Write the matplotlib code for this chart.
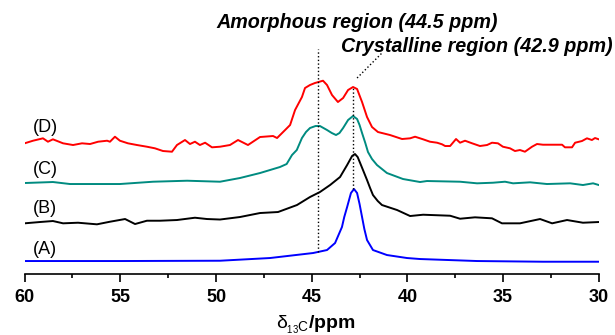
import numpy as np
import matplotlib
matplotlib.use("Agg")
import matplotlib.pyplot as plt
from matplotlib.ticker import MultipleLocator

plt.rcParams["font.family"] = ["Liberation Sans", "DejaVu Sans"]
plt.rcParams["mathtext.fontset"] = "custom"
plt.rcParams["mathtext.rm"] = "Liberation Sans"
plt.rcParams["mathtext.it"] = "Liberation Sans"
plt.rcParams["mathtext.bf"] = "Liberation Sans:bold"

# Spectra: chemical shift (ppm) and intensity (a.u.)
ppm_a = [60.0, 55.0, 49.79, 47.18, 44.93, 44.2, 43.78, 43.6, 43.42, 43.3,
         43.15, 42.95, 42.79, 42.63, 42.5, 42.37, 42.25, 42.11, 41.8, 41.07,
         40.02, 39.34, 36.36, 32.92, 30.0]
int_a = [0, 0, 0.3, 3, 8, 11, 18, 26, 34, 44,
         54, 68, 72, 68, 57, 44, 32, 21, 11, 6,
         3, 2, 0, -0.7, -0.7]

ppm_b = [60.0, 59.2, 58.52, 57.99, 57.21, 56.22, 55.54, 54.75, 54.23, 53.61,
         52.93, 52.04, 51.1, 50.47, 49.79, 48.75, 47.7, 46.76, 45.77, 45.09,
         44.57, 44.04, 43.52, 43.15, 42.89, 42.74, 42.6, 42.47, 42.3, 42.11,
         41.95, 41.8, 41.55, 41.33, 40.54, 39.86, 39.18, 37.77, 37.25, 36.47,
         35.58, 35.06, 34.12, 33.07, 32.44, 31.66, 30.83, 30.0]
int_b = [-2.3, -1, 0, -2.3, -1.7, -3.3, -0.7, 2, -3, 0.3,
         0.3, 1, 3.3, 2, 1.5, 4, 8, 9, 16, 24,
         29, 36, 44, 56, 65, 67, 64, 58, 50, 41,
         33, 26, 20, 16, 11, 5, 6.3, 5.3, 2.3, 3.7,
         2.7, -2.3, -2.3, 2, -2.3, 1, -1.7, -1]

ppm_c = [60.0, 58.52, 57.63, 55.02, 53.29, 51.51, 49.79, 48.75, 47.7, 46.66,
         46.31, 46.03, 45.78, 45.51, 45.3, 45.09, 44.8, 44.57, 44.2, 43.95,
         43.73, 43.55, 43.36, 43.1, 42.84, 42.63, 42.5, 42.37, 42.2, 42.06,
         41.85, 41.59, 41.07, 40.23, 39.34, 38.98, 37.25, 36.36, 35.53, 34.9,
         34.48, 33.59, 32.71, 31.5, 30.83, 30.3, 30.0]
int_c = [0, 1, -1, -1, 1.3, 2.3, 1.3, 5, 10, 16,
         19, 28, 33, 45, 51, 55, 57, 57, 53, 50,
         48, 50, 55, 63, 67, 64, 58, 50, 40, 31,
         24, 18, 10, 4, 1, 2, 1.3, -0.3, 0.3, 1.3,
         -0.3, 0.7, -1, -0.3, -2, -0.3, -2]

ppm_d = [60.0, 59.56, 59.04, 58.78, 58.52, 57.99, 57.47, 57.0, 56.58, 56.16,
         55.69, 55.54, 55.28, 55.02, 54.6, 54.13, 53.61, 53.19, 52.77, 52.3,
         52.04, 51.62, 51.36, 51.1, 50.84, 50.57, 50.21, 49.79, 49.27, 48.85,
         48.33, 47.7, 47.02, 46.81, 46.39, 46.13, 45.87, 45.51, 45.35, 45.09,
         44.83, 44.41, 44.2, 43.94, 43.63, 43.36, 43.1, 42.84, 42.63, 42.37,
         42.11, 41.85, 41.54, 40.91, 40.28, 39.86, 39.6, 39.18, 38.82, 38.45,
         38.19, 38.03, 37.77, 37.46, 37.25, 36.99, 36.62, 36.21, 35.84, 35.58,
         35.27, 35.01, 34.64, 34.38, 34.12, 33.86, 33.49, 33.23, 32.92, 32.39,
         31.92, 31.77, 31.4, 31.24, 30.88, 30.62, 30.36, 30.2, 30.0]
int_d = [0.7, 3.3, 5.7, 2.3, 4.7, 0.7, -1, 0.7, 0, 2.3,
         3.3, 2.3, 7.3, 3.3, 0.7, -1, -2.7, -4.3, -7, -7.7,
         -1, 4, 0, 2.3, -1, 1.3, -3.3, -2.7, -1, 4,
         -1, 7, 8, 6, 14, 19, 34, 47, 56, 59,
         61, 63.3, 59, 49, 42, 46, 54, 57, 55, 42,
         27, 17, 12, 9, 5, 5.7, 7.3, 4.7, 2.3, 1.3,
         -0.3, -2, -2, 5, 1.3, 3.3, 0.7, -2, -1, 1.3,
         0.7, -2.7, -4.3, -7, -6, -7.7, -2.7, 0, -0.7, -0.7,
         -0.7, -3.3, -3.3, 1.3, 3, 5.7, 4, 6, 4.7]

labels = ["(A)", "(B)", "(C)", "(D)"]
spectra = [(ppm_a, int_a), (ppm_b, int_b), (ppm_c, int_c), (ppm_d, int_d)]

# Stacking and styling
offsets = [13, 53, 91, 130]
label_y = [20, 60.7, 99.7, 142.3]
colors = ["#0000FF", "#000000", "#008B80", "#FF0000"]

amorphous_ppm = 44.65
crystalline_ppm = 42.86

fig = plt.figure(figsize=(6.15, 3.35), dpi=100)
ax = fig.add_axes([0.04, 0.182, 0.9337, 0.818])

for (p, inten), off, col in zip(spectra, offsets, colors):
    ax.plot(p, np.array(inten) + off, color=col, lw=1.4)

for lab, ly in zip(labels, label_y):
    ax.text(59.58, ly, lab, fontsize=13, va="baseline", ha="left")

# Guide lines for the two resonances
ax.plot([amorphous_ppm, amorphous_ppm], [22, 225], ls=":", color="black", lw=1)
ax.plot([crystalline_ppm, crystalline_ppm], [85, 187], ls=":", color="black", lw=1)
ax.plot([42.63, 41.33], [196, 221], ls=":", color="black", lw=1)

ax.text(50.0, 245.7, "Amorphous region (44.5 ppm)", fontsize=14.2,
        fontweight="bold", fontstyle="italic", va="baseline", ha="left")
ax.text(43.47, 222.3, "Crystalline region (42.9 ppm)", fontsize=14.2,
        fontweight="bold", fontstyle="italic", va="baseline", ha="left")

ax.set_xlim(60, 30)
ax.set_ylim(0, 274)
for s in ["left", "right", "top"]:
    ax.spines[s].set_visible(False)
ax.spines["bottom"].set_linewidth(1.2)
ax.set_yticks([])
ax.xaxis.set_major_locator(MultipleLocator(5))
ax.xaxis.set_minor_locator(MultipleLocator(2.5))
ax.tick_params(axis="x", which="major", direction="out", length=5.5,
               width=1.2, pad=5, labelsize=13)
ax.tick_params(axis="x", which="minor", direction="out", length=3, width=1.2)
for t in ax.get_xticklabels():
    t.set_fontweight("bold")

ax.set_xlabel(r"$\delta_{{}_{13}\mathrm{C}}$/ppm", fontsize=14, fontweight="bold")
ax.xaxis.set_label_coords(0.507, -0.145)

fig.savefig("out.png", dpi=100)
